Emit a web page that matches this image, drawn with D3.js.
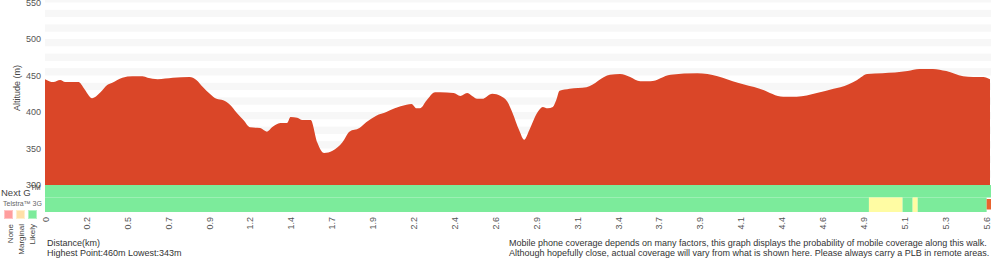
<!DOCTYPE html>
<html>
<head>
<meta charset="utf-8">
<script src="https://cdn.jsdelivr.net/npm/d3@7"></script>
<style>
    body { margin: 0; background: #fff; }
    text { font-family: "Liberation Sans", Arial, Helvetica, sans-serif; }
</style>
</head>
<body>
<div id="chart_container"></div>
<script>
// elevation profile (km, m)
var distance = [0, 0.05, 0.09, 0.12, 0.20, 0.23, 0.28, 0.33, 0.37, 0.40, 0.46, 0.52, 0.58, 0.61, 0.67, 0.76,
    0.86, 0.90, 0.94, 0.98, 1.02, 1.06, 1.10, 1.14, 1.18, 1.22, 1.28, 1.32, 1.35, 1.40, 1.44, 1.46, 1.50, 1.53,
    1.58, 1.62, 1.66, 1.71, 1.77, 1.81, 1.87, 1.91, 1.97, 2.03, 2.08, 2.15, 2.18, 2.21, 2.23, 2.27, 2.32, 2.35,
    2.43, 2.47, 2.51, 2.54, 2.57, 2.60, 2.66, 2.71, 2.75, 2.78, 2.82, 2.85, 2.88, 2.93, 2.96, 2.99, 3.02, 3.04,
    3.06, 3.12, 3.22, 3.36, 3.42, 3.48, 3.54, 3.60, 3.72, 3.88, 4.00, 4.12, 4.25, 4.39, 4.47, 4.59, 4.69, 4.73,
    4.83, 4.89, 4.98, 5.13, 5.20, 5.28, 5.36, 5.46, 5.52, 5.58, 5.62];
var altitude = [445, 441, 444, 441, 441, 433, 419, 427, 437, 440, 447, 449, 449, 447, 445, 447,
    448, 444, 434, 425, 418, 416, 410, 399, 389, 379, 378, 373, 379, 385, 385, 393, 392, 389,
    389, 358, 344, 347, 359, 373, 378, 386, 395, 400, 405, 410, 411, 405, 405, 416, 427, 427,
    426, 422, 426, 422, 418, 418, 425, 422, 414, 399, 375, 362, 375, 400, 407, 405, 407, 416,
    429, 432, 434, 451, 452, 448, 442, 442, 451, 453, 449, 440, 432, 421, 421, 426, 432, 434,
    444, 452, 453, 456, 459, 459, 456, 449, 448, 448, 445];

var highest_point = 460;
var lowest_point = 343;

var tick_labels = ["0", "0.2", "0.5", "0.7", "0.9", "1.2", "1.4", "1.7", "1.9", "2.2", "2.4", "2.6",
    "2.9", "3.1", "3.4", "3.7", "3.9", "4.1", "4.4", "4.6", "4.9", "5.1", "5.3", "5.6"];
var y_ticks = [300, 350, 400, 450, 500, 550];

// coverage segments (km)
var nextg_start = [0];
var nextg_end = [5.62];
var nextg_level = ["Likely"];
var telstra_start = [0, 4.90, 5.10, 5.16, 5.19, 5.60];
var telstra_end = [4.90, 5.10, 5.16, 5.19, 5.60, 5.62];
var telstra_level = ["Likely", "Marginal", "Likely", "Marginal", "Likely", "None"];

var legend_labels = ["None", "Marginal", "Likely"];

draw_profile();

function draw_profile() {
    var chart_width = 1000;
    var chart_height = 260;
    var margin = { top: 2.5, right: 10, bottom: 75, left: 45 };

    var svg = d3.select("#chart_container")
        .append("svg")
        .attr("width", chart_width)
        .attr("height", chart_height);

    var x = d3.scaleLinear()
        .domain([0, 5.62])
        .range([margin.left, chart_width - margin.right]);

    var y = d3.scaleLinear()
        .domain([300, 550])
        .range([chart_height - margin.bottom, margin.top]);

    var tick_x = d3.scalePoint()
        .domain(tick_labels)
        .range([x(0) + 1, x(5.6)]);

    // background stripes every 20m
    svg.append("g")
        .selectAll("rect")
        .data(d3.range(310, 560, 20))
        .enter()
        .append("rect")
        .attr("x", x(0))
        .attr("width", x(5.62) - x(0) + 1)
        .attr("y", d => Math.max(0, y(d + 10)))
        .attr("height", d => y(d) - Math.max(0, y(d + 10)))
        .attr("fill", "#f7f7f7");

    var points = distance.map((d, i) => ({ d: d, a: altitude[i] }));

    var area = d3.area()
        .x(d => x(d.d))
        .y0(y(300))
        .y1(d => y(d.a))
        .curve(d3.curveMonotoneX);

    svg.append("path")
        .datum(points)
        .attr("d", area)
        .attr("fill", "#da4628");

    // coverage rows
    var row_top = y(300);
    var bar_colors = { Likely: "#7ceb9b", Marginal: "#fffca3", None: "#e8642f" };
    var rows = [
        { top: row_top, h: 12.5, start: nextg_start, end: nextg_end, level: nextg_level },
        { top: row_top + 12.5, h: 14.5, start: telstra_start, end: telstra_end, level: telstra_level }
    ];
    rows.forEach(function (row) {
        svg.append("g")
            .selectAll("rect")
            .data(row.start)
            .enter()
            .append("rect")
            .attr("x", d => x(d))
            .attr("width", (d, i) => x(row.end[i]) - x(d) + (i == row.start.length - 1 ? 1 : 0))
            .attr("y", (d, i) => row.level[i] == "None" ? row.top + 1.5 : row.top)
            .attr("height", (d, i) => row.level[i] == "None" ? row.h - 4 : row.h)
            .attr("fill", (d, i) => bar_colors[row.level[i]]);
    });

    // y axis labels
    svg.append("g")
        .selectAll("text")
        .data(y_ticks)
        .enter()
        .append("text")
        .attr("x", 41)
        .attr("y", d => y(d))
        .attr("dy", "0.35em")
        .attr("text-anchor", "end")
        .style("font-size", "9px")
        .attr("fill", "#555")
        .text(d => d);

    svg.append("text")
        .attr("transform", "translate(20," + 88 + ") rotate(-90)")
        .attr("text-anchor", "middle")
        .style("font-size", "9px")
        .attr("fill", "#444")
        .text("Altitude (m)");

    // x tick labels
    svg.append("g")
        .selectAll("text")
        .data(tick_labels)
        .enter()
        .append("text")
        .attr("transform", d => "translate(" + (tick_x(d) + 3) + ",217) rotate(-90)")
        .attr("text-anchor", "end")
        .style("font-size", "9px")
        .attr("fill", "#555")
        .text(d => d);

    // network labels
    var nextg = svg.append("text")
        .attr("x", 1)
        .attr("y", 196)
        .style("font-size", "9.5px")
        .attr("fill", "#444")
        .text("Next G");
    nextg.append("tspan")
        .attr("dy", -6)
        .style("font-size", "7px")
        .text("TM");

    svg.append("text")
        .attr("x", 3)
        .attr("y", 206)
        .style("font-size", "7px")
        .attr("fill", "#666")
        .text("Telstra™ 3G");

    // legend
    var legend_fill = { None: "#ff9e9e", Marginal: "#ffe0a8", Likely: "#7ceb9b" };
    var legend_stroke = { None: "#ffc4c4", Marginal: "#fff0cc", Likely: "#b2f3c4" };
    var legend = svg.append("g").attr("id", "legend");

    legend.selectAll("rect")
        .data(legend_labels)
        .enter()
        .append("rect")
        .attr("x", (d, i) => 4.5 + i * 12)
        .attr("y", 210.5)
        .attr("width", 8)
        .attr("height", 8)
        .attr("fill", d => legend_fill[d])
        .attr("stroke", d => legend_stroke[d])
        .attr("stroke-width", 1);

    legend.selectAll("text")
        .data(legend_labels)
        .enter()
        .append("text")
        .attr("transform", (d, i) => "translate(" + (12.5 + i * 11) + ",224) rotate(-90)")
        .attr("text-anchor", "end")
        .style("font-size", "8px")
        .attr("fill", "#444")
        .text(d => d);

    // footer notes
    svg.append("text")
        .attr("x", 47)
        .attr("y", 246)
        .style("font-size", "9px")
        .attr("fill", "#333")
        .text("Distance(km)");

    svg.append("text")
        .attr("x", 47)
        .attr("y", 256)
        .style("font-size", "9px")
        .attr("fill", "#333")
        .text("Highest Point:" + highest_point + "m Lowest:" + lowest_point + "m");

    svg.append("text")
        .attr("x", 509)
        .attr("y", 246)
        .style("font-size", "9px")
        .attr("fill", "#333")
        .text("Mobile phone coverage depends on many factors, this graph displays the probability of mobile coverage along this walk.");

    svg.append("text")
        .attr("x", 509)
        .attr("y", 256)
        .style("font-size", "9px")
        .attr("fill", "#333")
        .text("Although hopefully close, actual coverage will vary from what is shown here. Please always carry a PLB in remote areas.");
}
</script>
</body>
</html>
